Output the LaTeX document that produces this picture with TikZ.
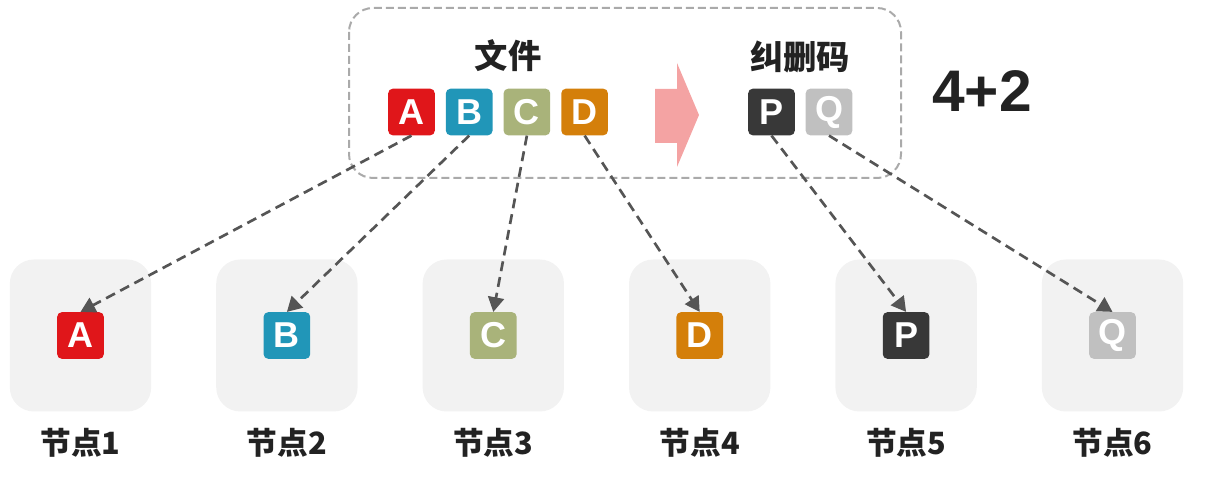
\documentclass[tikz,border=0pt]{standalone}
\usepackage{fontspec}
\setmainfont{Liberation Sans}
\newfontfamily\cjk{Noto Sans CJK SC}
\usetikzlibrary{arrows.meta}
\definecolor{tileA}{HTML}{E0161A}
\definecolor{tileB}{HTML}{2196B8}
\definecolor{tileC}{HTML}{A9B37A}
\definecolor{tileD}{HTML}{D47F0A}
\definecolor{tileP}{HTML}{383838}
\definecolor{tileQ}{HTML}{C0C0C0}
\definecolor{slotgray}{HTML}{F2F2F2}
\definecolor{framegray}{HTML}{AAAAAA}
\definecolor{linkgray}{HTML}{555555}
\definecolor{pinkarrow}{HTML}{F4A3A3}
\definecolor{inkdark}{HTML}{222222}
\begin{document}
\begin{tikzpicture}[x=0.75pt, y=-0.75pt,
    tile/.style={rounded corners=3.5pt, minimum size=35pt, inner sep=0pt, text=white,
        font=\fontsize{27}{27}\selectfont\bfseries},
    slot/.style={fill=slotgray, rounded corners=18pt, minimum width=106pt, minimum height=114pt},
    title/.style={text=inkdark, font=\cjk\bfseries\fontsize{25}{25}\selectfont},
    nodelabel/.style={text=inkdark, font=\cjk\bfseries\fontsize{23}{23}\selectfont},
    link/.style={draw=linkgray, line width=2pt, dash pattern=on 7.5pt off 4.5pt,
        -{Triangle[length=11pt, width=12pt]}}]
    \useasboundingbox (0,0) rectangle (1217,491);
    % file and erasure code
    \draw[framegray, line width=1.5pt, dash pattern=on 6pt off 3pt, rounded corners=18pt]
        (349,8) rectangle (901,178);
    \node[title] (file) at (508,56) {文件};
    \node[title] (code) at (800,57) {纠删码};
    \foreach \index/\part in {1/A,2/B,3/C,4/D} {
        \node[tile, fill=tile\part] (top-\part) at ({411.5+57.7*(\index-1)},112) {\part};
    }
    \foreach \index/\part in {1/P,2/Q} {
        \node[tile, fill=tile\part] (top-\part) at ({771.5+57.5*(\index-1)},112) {\part};
    }
    \fill[pinkarrow] (655,89) -- (677,89) -- (677,63) -- (699,115) -- (677,167)
        -- (677,143) -- (655,143) -- cycle;
    \node[text=inkdark, font=\fontsize{44}{44}\selectfont\bfseries] (ratio) at (982,91) {4+2};
    % storage nodes
    \foreach \index/\part in {1/A,2/B,3/C,4/D,5/P,6/Q} {
        \node[slot] (slot-\index) at ({80.5+206.4*(\index-1)},335.5) {};
        \node[tile, fill=tile\part] (node-\part) at (slot-\index) {\part};
        \node[nodelabel] (label-\index) at ({80.5+206.4*(\index-1)},443) {节点\index};
    }
    \foreach \part in {A,B,C,D,P,Q}
        \draw[link] (top-\part.south) -- (node-\part.north);
\end{tikzpicture}
\end{document}
